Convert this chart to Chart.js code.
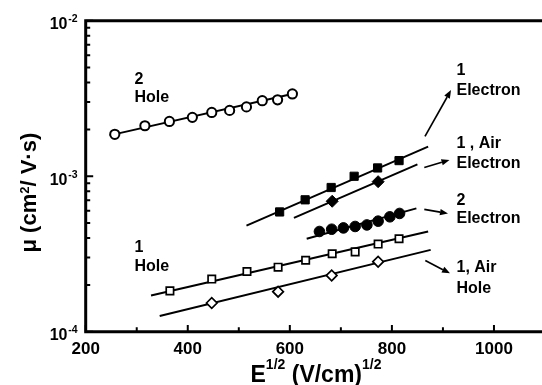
<!DOCTYPE html>
<html><head><meta charset="utf-8">
<script src="https://cdn.jsdelivr.net/npm/chart.js@4.4.1/dist/chart.umd.min.js"></script>
<style>
html,body{margin:0;padding:0;background:#fff;overflow:hidden;}
#wrap{width:542px;height:385px;overflow:hidden;position:relative;background:#fff;}
canvas{display:block;}
</style></head>
<body><div id="wrap"><canvas id="c" width="560" height="385"></canvas></div>
<script>
const FONT = '"Liberation Sans", Arial, Helvetica, sans-serif';

// ---- data: x = E^1/2 (V/cm)^1/2, y = mobility (cm^2/V·s) ----
const hole2X = [257, 316, 364, 409, 447, 482, 515, 546, 576, 605];
const hole2Y = [1.86e-3, 2.11e-3, 2.25e-3, 2.39e-3, 2.57e-3, 2.65e-3, 2.79e-3, 3.06e-3, 3.10e-3, 3.38e-3];
const hole1X = [365, 447, 516, 577, 631, 683, 728, 773, 814];
const hole1Y = [1.83e-4, 2.18e-4, 2.44e-4, 2.60e-4, 2.88e-4, 3.17e-4, 3.26e-4, 3.66e-4, 3.96e-4];
const holeAirX = [447, 577, 682, 773];
const holeAirY = [1.53e-4, 1.81e-4, 2.30e-4, 2.82e-4];
const elec1X = [580, 630, 681, 726, 772, 814];
const elec1Y = [5.89e-4, 7.05e-4, 8.46e-4, 9.99e-4, 1.13e-3, 1.26e-3];
const elecAirX = [683, 773];
const elecAirY = [6.90e-4, 9.22e-4];
const elec2X = [658, 682, 705, 728, 751, 773, 796, 815];
const elec2Y = [4.41e-4, 4.56e-4, 4.65e-4, 4.75e-4, 4.86e-4, 5.14e-4, 5.48e-4, 5.76e-4];

// ---- fitted straight lines (end points) ----
const fitHole2X = [247, 615];    const fitHole2Y = [1.83e-3, 3.44e-3];
const fitHole1X = [328, 871];    const fitHole1Y = [1.71e-4, 4.41e-4];
const fitHoleAirX = [345, 876];  const fitHoleAirY = [1.26e-4, 3.36e-4];
const fitElec1X = [515, 871];    const fitElec1Y = [4.81e-4, 1.55e-3];
const fitElecAirX = [608, 850];  const fitElecAirY = [5.40e-4, 1.19e-3];
const fitElec2X = [633, 848];    const fitElec2Y = [3.96e-4, 6.21e-4];

// ---- axis ticks ----
const xTickLabels = [200, 400, 600, 800, 1000];
const xMinorTicks = [300, 500, 700, 900, 1100];
const yDecades = [-2, -3, -4];

const pts = (xs, ys) => xs.map((x, i) => ({x, y: ys[i]}));

function markers(xs, ys, style, r, fill, bw) {
  return {data: pts(xs, ys), showLine: false, pointStyle: style, pointRadius: r,
    pointBackgroundColor: fill, pointBorderColor: '#000', pointBorderWidth: bw, order: 0};
}
function fit(xs, ys) {
  return {data: pts(xs, ys), showLine: true, borderColor: '#000', borderWidth: 2,
    pointRadius: 0, fill: false, order: 1};
}

// annotation texts (pixel layout) and arrows
const labels = [
  ['2', 134.5, 83.5], ['Hole', 134.5, 102],
  ['1', 134.5, 251.5], ['Hole', 134.5, 270.5],
  ['1', 456.5, 75.3], ['Electron', 456.5, 95],
  ['1 , Air', 456.5, 148.2], ['Electron', 456.5, 167.5],
  ['2', 456.5, 205], ['Electron', 456.5, 223.3],
  ['1, Air', 456.5, 272], ['Hole', 456.5, 293]
];
const arrows = [
  [425, 136.4, 451, 90.1],
  [424.3, 167.5, 449.5, 160],
  [424.3, 209.3, 448, 213.5],
  [425.3, 260.6, 450, 273.3]
];

const decor = {
  id: 'decor',
  afterDraw(chart) {
    const ctx = chart.ctx, ca = chart.chartArea;
    const xs = chart.scales.x, ys = chart.scales.y;
    ctx.save();
    ctx.strokeStyle = '#000'; ctx.fillStyle = '#000';
    // frame
    ctx.lineWidth = 3;
    ctx.beginPath();
    ctx.moveTo(ca.left - 1.5, ca.top); ctx.lineTo(chart.width, ca.top);
    ctx.moveTo(ca.left, ca.top - 1.5); ctx.lineTo(ca.left, ca.bottom + 1.5);
    ctx.moveTo(ca.left - 1.5, ca.bottom); ctx.lineTo(chart.width, ca.bottom);
    ctx.stroke();
    // x ticks (inward)
    ctx.lineWidth = 2;
    ctx.beginPath();
    xTickLabels.forEach(v => { const p = xs.getPixelForValue(v); ctx.moveTo(p, ca.bottom); ctx.lineTo(p, ca.bottom - 6.7); });
    xMinorTicks.forEach(v => { const p = xs.getPixelForValue(v); ctx.moveTo(p, ca.bottom); ctx.lineTo(p, ca.bottom - 4.4); });
    // y ticks (inward)
    yDecades.forEach(e => { const p = ys.getPixelForValue(Math.pow(10, e)); ctx.moveTo(ca.left, p); ctx.lineTo(ca.left + 7.5, p); });
    [-4, -3].forEach(e => { for (let m = 2; m <= 9; m++) { const p = ys.getPixelForValue(m * Math.pow(10, e)); ctx.moveTo(ca.left, p); ctx.lineTo(ca.left + 4.5, p); } });
    ctx.stroke();
    // y tick labels 10^n
    ctx.textBaseline = 'alphabetic';
    yDecades.forEach(e => {
      const p = ys.getPixelForValue(Math.pow(10, e));
      ctx.font = 'bold 16px ' + FONT; ctx.textAlign = 'right';
      ctx.fillText('10', 67.5, p + 8.5);
      ctx.font = 'bold 10.5px ' + FONT; ctx.textAlign = 'left';
      ctx.fillText(String(e), 68.3, p + 1.5);
    });
    // x title: E^1/2 (V/cm)^1/2
    const big = 'bold 23px ' + FONT, sup = 'bold 14px ' + FONT;
    const parts = [['E', big, 0], ['1/2', sup, -13.5], [' (V/cm)', big, 0], ['1/2', sup, -13.5]];
    let tw = 0;
    parts.forEach(pp => { ctx.font = pp[1]; tw += ctx.measureText(pp[0]).width; });
    let x0 = 316 - tw / 2;
    ctx.textAlign = 'left';
    parts.forEach(pp => { ctx.font = pp[1]; ctx.fillText(pp[0], x0, 382 + pp[2]); x0 += ctx.measureText(pp[0]).width; });
    // y title: μ (cm^2/ V·s)
    ctx.save();
    ctx.translate(36, 192.6);
    ctx.rotate(-Math.PI / 2);
    const yb = 'bold 22px ' + FONT, ys2 = 'bold 13px ' + FONT;
    const yparts = [['\u03bc (cm', yb, 0], ['2', ys2, -7.5], ['/ V\u00b7s)', yb, 0]];
    tw = 0;
    yparts.forEach(pp => { ctx.font = pp[1]; tw += ctx.measureText(pp[0]).width; });
    x0 = -tw / 2;
    yparts.forEach(pp => { ctx.font = pp[1]; ctx.fillText(pp[0], x0, pp[2]); x0 += ctx.measureText(pp[0]).width; });
    ctx.restore();
    // annotations
    ctx.font = 'bold 16px ' + FONT; ctx.textAlign = 'left';
    labels.forEach(l => ctx.fillText(l[0], l[1], l[2]));
    // arrows
    ctx.lineWidth = 1.7;
    arrows.forEach(a => {
      const [x1, y1, x2, y2] = a;
      const ang = Math.atan2(y2 - y1, x2 - x1), L = 8, W = 3.2;
      const bx = x2 - L * Math.cos(ang), by = y2 - L * Math.sin(ang);
      ctx.beginPath(); ctx.moveTo(x1, y1); ctx.lineTo(bx, by); ctx.stroke();
      ctx.beginPath();
      ctx.moveTo(x2, y2);
      ctx.lineTo(bx + W * Math.sin(ang), by - W * Math.cos(ang));
      ctx.lineTo(bx - W * Math.sin(ang), by + W * Math.cos(ang));
      ctx.closePath(); ctx.fill();
    });
    ctx.restore();
  }
};

new Chart(document.getElementById('c'), {
  type: 'scatter',
  data: {
    datasets: [
      markers(hole2X, hole2Y, 'circle', 4.6, '#fff', 2),
      markers(hole1X, hole1Y, 'rect', 5.2, '#fff', 1.7),
      markers(holeAirX, holeAirY, 'rectRot', 5.3, '#fff', 1.7),
      markers(elec1X, elec1Y, 'rect', 5.8, '#000', 1),
      markers(elecAirX, elecAirY, 'rectRot', 6, '#000', 1),
      markers(elec2X, elec2Y, 'circle', 5.3, '#000', 1),
      fit(fitHole2X, fitHole2Y),
      fit(fitHole1X, fitHole1Y),
      fit(fitHoleAirX, fitHoleAirY),
      fit(fitElec1X, fitElec1Y),
      fit(fitElecAirX, fitElecAirY),
      fit(fitElec2X, fitElec2Y)
    ]
  },
  options: {
    responsive: false, animation: false, devicePixelRatio: 1, events: [],
    layout: {padding: {left: 0, right: 15, top: 20.7, bottom: 0}},
    plugins: {legend: {display: false}, tooltip: {enabled: false}},
    scales: {
      x: {
        type: 'linear', min: 200, max: 1100,
        grid: {display: false, drawTicks: false}, border: {display: false},
        afterBuildTicks: s => { s.ticks = xTickLabels.map(v => ({value: v})); },
        afterFit: s => { s.height = 385 - 331.7; },
        ticks: {color: '#000', padding: 7, autoSkip: false, maxRotation: 0,
          font: {family: FONT, size: 17, weight: 'bold'}, callback: v => String(v)}
      },
      y: {
        type: 'logarithmic', min: 1e-4, max: 1e-2,
        grid: {display: false, drawTicks: false}, border: {display: false},
        ticks: {display: false},
        afterFit: s => { s.width = 85.7; }
      }
    }
  },
  plugins: [decor]
});
</script>
</body></html>
